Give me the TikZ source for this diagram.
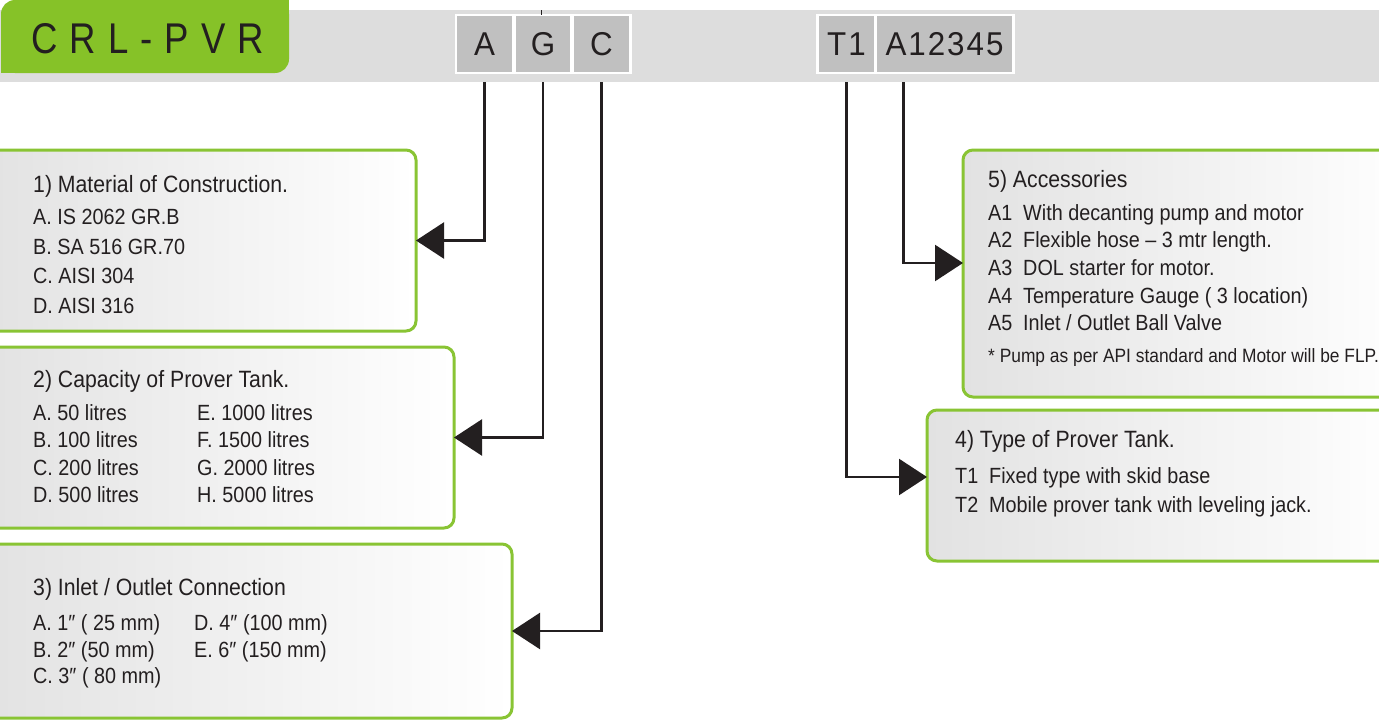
\documentclass[tikz,border=0pt]{standalone}
\usepackage{fontspec}
\setmainfont{Liberation Sans}[FakeStretch=0.9]
\newfontfamily\titlefont{Liberation Sans}[FakeStretch=0.85,LetterSpace=28]
\newfontfamily\cellfont{Liberation Sans}[FakeStretch=0.95,LetterSpace=6]
\usetikzlibrary{arrows.meta}
\definecolor{ink}{RGB}{35,31,32}
\definecolor{tabgreen}{RGB}{134,194,40}
\definecolor{boxgreen}{RGB}{137,196,52}
\definecolor{bargrey}{RGB}{221,221,221}
\definecolor{cellgrey}{RGB}{192,192,192}
\definecolor{boxgrey}{RGB}{226,226,226}
\begin{document}
\begin{tikzpicture}[x=1pt,y=-1pt,
  infobox/.style={draw=boxgreen, line width=3pt, rounded corners=10pt, left color=boxgrey, right color=white, anchor=north west, inner sep=0pt, outer sep=0pt},
  cell/.style={fill=cellgrey, inner sep=0pt, minimum height=56pt, text=ink, font=\cellfont\fontsize{33}{33}\selectfont},
  txt/.style={anchor=base west, inner sep=0pt, text=ink, font=\fontsize{22}{27}\selectfont},
  head/.style={txt, font=\fontsize{23.6}{27}\selectfont},
  note/.style={txt, font=\fontsize{19.3}{22}\selectfont},
  conn/.style={draw=ink, line width=2.5pt, -{Triangle[length=28pt,width=36pt]}}
]
\useasboundingbox (0,0) rectangle (1379,720);
\clip (0,0) rectangle (1379,720);

% header bar and tab
\fill[bargrey] (0,9.5) rectangle (1379,81.5);
\fill[tabgreen, rounded corners=14pt] (1,0) rectangle (289,73);
\fill[tabgreen] (1,40) rectangle (30,73);
\fill[tabgreen] (250,0) rectangle (289,30);
\node[anchor=base west, inner sep=0pt, text=ink, font=\titlefont\fontsize{43}{43}\selectfont] (title) at (31,53) {CRL-PVR};

% code cells
\fill[white] (455,14) rectangle (632,74);
\fill[white] (816,14) rectangle (1015,74);
\node[cell, minimum width=55pt] (cA) at (484.5,44) {A};
\node[cell, minimum width=54pt] (cG) at (543,44) {G};
\node[cell, minimum width=55pt] (cC) at (601.5,44) {C};
\node[cell, minimum width=55pt] (cT) at (846.5,44) {T1};
\node[cell, minimum width=135pt] (cX) at (944.5,44) {A12345};
\draw[ink, line width=1.2pt] ([xshift=-1.5pt,yshift=1pt]cG.north) -- ([xshift=-1.5pt,yshift=6pt]cG.north);

% boxes
\node[infobox, minimum width=436pt, minimum height=181pt] (b1) at (-20,150) {};
\node[infobox, minimum width=474pt, minimum height=181pt] (b2) at (-20,347) {};
\node[infobox, minimum width=532pt, minimum height=174pt] (b3) at (-20,544) {};
\node[infobox, minimum width=450pt, minimum height=247pt] (b5) at (963,150) {};
\node[infobox, minimum width=480pt, minimum height=151pt] (b4) at (927,410) {};

% box 1
\node[head] (b1h) at (33,192) {1) Material of Construction.};
\node[txt] (b1a) at (33,224) {A. IS 2062 GR.B};
\node[txt] (b1b) at (33,254) {B. SA 516 GR.70};
\node[txt] (b1c) at (33,283) {C. AISI 304};
\node[txt] (b1d) at (33,313) {D. AISI 316};

% box 2
\node[head] (b2h) at (33,387) {2) Capacity of Prover Tank.};
\node[txt] (b2a) at (33,420) {A. 50 litres};
\node[txt] (b2b) at (33,447) {B. 100 litres};
\node[txt] (b2c) at (33,475) {C. 200 litres};
\node[txt] (b2d) at (33,502) {D. 500 litres};
\node[txt] (b2e) at (197,420) {E. 1000 litres};
\node[txt] (b2f) at (197,447) {F. 1500 litres};
\node[txt] (b2g) at (197,475) {G. 2000 litres};
\node[txt] (b2i) at (197,502) {H. 5000 litres};

% box 3
\node[head] (b3h) at (33,595) {3) Inlet / Outlet Connection};
\node[txt] (b3a) at (33,630) {A. 1″ ( 25 mm)};
\node[txt] (b3b) at (33,657) {B. 2″ (50 mm)};
\node[txt] (b3c) at (33,683) {C. 3″ ( 80 mm)};
\node[txt] (b3d) at (194,630) {D. 4″ (100 mm)};
\node[txt] (b3e) at (194,657) {E. 6″ (150 mm)};

% box 5
\node[head] (b5h) at (988,187) {5) Accessories};
\node[txt] (b5k1) at (988,220) {A1};
\node[txt] (b5t1) at (1023,220) {With decanting pump and motor};
\node[txt] (b5k2) at (988,247) {A2};
\node[txt] (b5t2) at (1023,247) {Flexible hose – 3 mtr length.};
\node[txt] (b5k3) at (988,275) {A3};
\node[txt] (b5t3) at (1023,275) {DOL starter for motor.};
\node[txt] (b5k4) at (988,303) {A4};
\node[txt] (b5t4) at (1023,303) {Temperature Gauge ( 3 location)};
\node[txt] (b5k5) at (988,330) {A5};
\node[txt] (b5t5) at (1023,330) {Inlet / Outlet Ball Valve};
\node[note] (b5n) at (988,362) {* Pump as per API standard and Motor will be FLP.};

% box 4
\node[head] (b4h) at (955,447) {4) Type of Prover Tank.};
\node[txt] (b4k1) at (955,483) {T1};
\node[txt] (b4t1) at (989,483) {Fixed type with skid base};
\node[txt] (b4k2) at (955,512) {T2};
\node[txt] (b4t2) at (989,512) {Mobile prover tank with leveling jack.};

% connectors
\draw[conn] ([yshift=-10pt]cA.south) |- (b1.east);
\draw[conn] ([yshift=-10pt]cG.south) |- (b2.east);
\draw[conn] ([yshift=-10pt]cC.south) |- (b3.east);
\draw[conn] ([yshift=-10pt]cT.south) |- ([yshift=8.5pt]b4.west);
\draw[conn] ([xshift=-41pt,yshift=-10pt]cX.south) |- ([yshift=10.5pt]b5.west);
\end{tikzpicture}
\end{document}
